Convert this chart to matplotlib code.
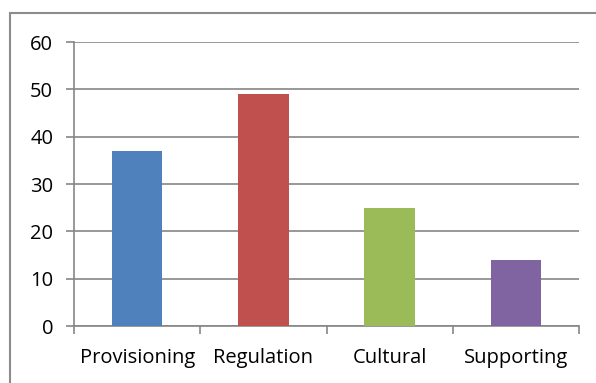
import numpy as np
import matplotlib
matplotlib.use('Agg')
import matplotlib.pyplot as plt
from matplotlib.patches import Rectangle

categories = ['Provisioning', 'Regulation', 'Cultural', 'Supporting']
values = [37, 49, 25, 14]
colors = ['#4F81BD', '#C0504D', '#9BBB59', '#8064A2']

plt.rcParams['font.family'] = ['Open Sans', 'DejaVu Sans']

fig = plt.figure(figsize=(5.96, 3.83), dpi=100)
ax = fig.add_axes([74 / 596, 1 - 326 / 383, (579 - 74) / 596, (326 - 42) / 383])

x = np.arange(len(categories))
ax.bar(x, values, width=0.4, color=colors, zorder=3)

ax.set_xlim(-0.5, len(categories) - 0.5)
ax.set_ylim(0, 60)
ax.set_yticks(range(0, 61, 10))
ax.yaxis.grid(True, color='#868686', linewidth=1.2, zorder=0)

ax.set_xticks(x)
ax.set_xticklabels(categories)
ax.set_xticks(np.arange(-0.5, len(categories), 1), minor=True)
ax.tick_params(axis='x', which='major', length=0, pad=16, labelsize=14.5)
ax.tick_params(axis='x', which='minor', length=6, width=1.2, color='#868686')
ax.tick_params(axis='y', length=6, width=1.2, color='#868686', pad=9, labelsize=14.5)

for s in ['top', 'right']:
    ax.spines[s].set_visible(False)
for s in ['left', 'bottom']:
    ax.spines[s].set_color('#868686')
    ax.spines[s].set_linewidth(1.2)

# chart frame
fig.patches.append(Rectangle((10 / 596, -0.1), 1.0, 1 - 13 / 383 + 0.1,
                             transform=fig.transFigure, fill=False,
                             edgecolor='#8c8c8c', linewidth=1.5))

fig.savefig('out.png', dpi=100)
